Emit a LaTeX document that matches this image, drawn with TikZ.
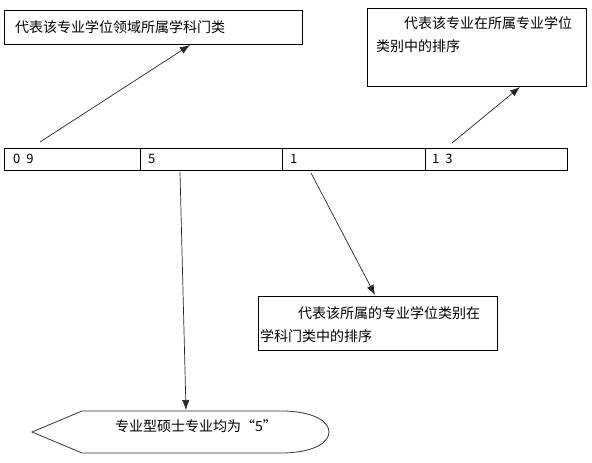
\documentclass[tikz,border=0pt]{standalone}
\usepackage{fontspec}
\setmainfont{Noto Sans CJK SC}
\usetikzlibrary{arrows.meta}
\begin{document}
\begin{tikzpicture}[x=1pt,y=-1pt,
  boxframe/.style={draw=black,line width=0.8pt,anchor=north west,inner sep=0pt},
  txt/.style={anchor=west,inner sep=0pt,font=\fontsize{14}{16}\selectfont},
  celltxt/.style={anchor=west,inner sep=0pt,font=\fontsize{13}{15}\selectfont},
  cellbox/.style={draw=black,line width=0.8pt,anchor=north west,inner sep=0pt,minimum height=22pt},
  conn/.style={draw=black!85,line width=0.7pt,-{Latex[length=10pt,width=7.5pt]}}]
\useasboundingbox (0,0) rectangle (592,463);
% top-left box
\node[boxframe,minimum width=298pt,minimum height=34pt] (b1) at (4,10) {};
\node[txt] (t1) at (15,27) {代表该专业学位领域所属学科门类};
% top-right box
\node[boxframe,minimum width=219pt,minimum height=78pt] (b2) at (367,8) {};
\node[txt] (t2a) at (404,23) {代表该专业在所属专业学位};
\node[txt] (t2b) at (376,46) {类别中的排序};
% strip of cells
\node[cellbox,minimum width=136pt] (c1) at (4,148) {};
\node[cellbox,minimum width=142pt] (c2) at (140,148) {};
\node[cellbox,minimum width=143pt] (c3) at (282,148) {};
\node[cellbox,minimum width=142pt] (c4) at (425,148) {};
\node[celltxt] (n1) at (13,159) {0\hspace{6pt}9};
\node[celltxt] (n2) at (148,159) {5};
\node[celltxt] (n3) at (290,159) {1};
\node[celltxt] (n4) at (432,159) {1\hspace{6pt}3};
% middle-right box
\node[boxframe,minimum width=239pt,minimum height=54pt] (b3) at (258,296) {};
\node[txt] (t3a) at (298,313) {代表该所属的专业学位类别在};
\node[txt] (t3b) at (260,336) {学科门类中的排序};
% bottom pointed shape
\draw[draw=black!80,line width=0.8pt] (82,411) -- (285,411)
  .. controls (315,412) and (329,422) .. (329,432)
  .. controls (329,442) and (315,452) .. (285,453)
  -- (82,453) -- (32,432) -- cycle;
\node[txt,anchor=center] (t4) at (196,426) {专业型硕士专业均为“5”};
% connector ends
\coordinate (s1) at (40,142);
\coordinate (e1) at (190,45);
\coordinate (s2) at (452,143);
\coordinate (e2) at (520,87);
\coordinate (s3) at (311,173);
\coordinate (e3) at (375,295);
\coordinate (s4) at (180,172);
\coordinate (e4) at (186,410);
\draw[conn] (s1) -- (e1);
\draw[conn] (s2) -- (e2);
\draw[conn] (s3) -- (e3);
\draw[conn] (s4) -- (e4);
\end{tikzpicture}
\end{document}
